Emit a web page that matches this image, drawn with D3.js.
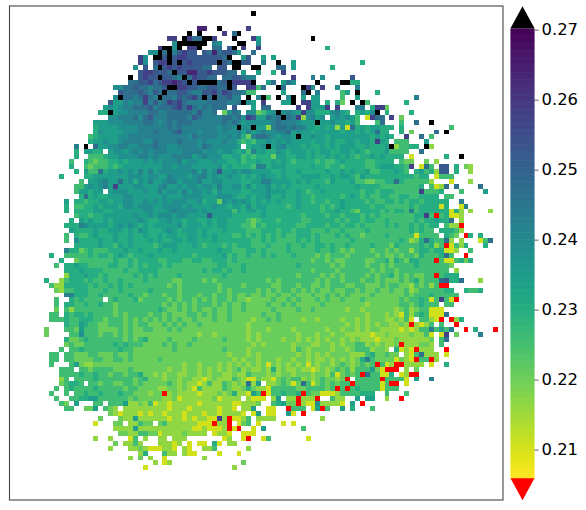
<!DOCTYPE html>
<html>
<head>
<meta charset="utf-8">
<script src="https://cdn.jsdelivr.net/npm/d3@7"></script>
<style>
  html, body { margin: 0; padding: 0; background: #fff; }
  svg { display: block; }
</style>
</head>
<body>
<svg id="chart" width="586" height="510"></svg>
<script>
//colour limits of the picture
var vmin = 0.2059;
var vmax = 0.2702;
var barTicks = [0.21, 0.22, 0.23, 0.24, 0.25, 0.26, 0.27];
var gridSize = 100;

//what one character in the rows stands for, k is over the top, r is under the bottom
var levelValues = {"0" : 0.2105, "1" : 0.2165, "2" : 0.2205, "3" : 0.2255, "4" : 0.2305, "5" : 0.2345, "6" : 0.2385,
                   "7" : 0.2425, "8" : 0.247, "9" : 0.2525, "a" : 0.258, "b" : 0.264, "k" : 0.28, "r" : 0.2};

//heatmap cells read by eye, top row first. each piece is column:cells, a dot means no data
var cellRows = [
"",
"49:k",
"",
"",
"38:bb 42:k 48:a",
"36:k 38:k 43:a 45:8k",
"32:aa 35:ka88kka 45:k 49:a 50:5 61:k",
"33:6kkkkkk 41:76 46:kk 50:6",
"30:akk6k.aak 41:88 44:9k 47:a 50:a 64:4",
"28:66k8k79a99 38:.98b8998 46:5 49:8",
"26:a6.kk9k9aa 36:99999 41:9988 44:k 47:5 48:9 51:5 53:5",
"26:a6.9aa 32:k9k9a99 39:999 42:k98 45:kk99 51:7 54:k 57:5 71:4",
"25:6.9.8k9a9a 35:999988.998 44:.kk 49:kk 54:88 57:5 65:4",
"26:9aa9998k99 36:bb99a99988 46:.5 50:5 53:4 55:a",
"24:k.9a99k9 32:9879 35:k8a99 40:88.88998 48:77 57:a 61:7 63:6 69:9",
"24:8899a8 30:9aaba9k9k8 40:kk89kaaaak 39:k 50:. 52:58 55:58 57:6 62:k 67:kk44",
"21:668898 27:8789 30:89kkaa9988 40:9988k9..k9 48:aa 50:3 51:8 54:k8 59:ka6 63:a 66:6 70:7",
"22:988898 28:79 30:8k88998779 40:9a8a988733 55:5 59:8k 62:7 67:35 70:k 74:4",
"21:6k8878a87 30:k887989a8k 40:8k88977.k. 50:7k3 54:k 56:6k 59:5 61:55 67:3 70:5 82:7",
"20:9557677a79 30:78a9a87777 40:888877 46:8k65 51:a 55:55 57:k 59:aa 61:55 64:4 66:4 67:2 69:k 71:k3 80:4",
"19:5 20:6567788897 30:8889a8a878 40:7888 44:.9 49:5 51:88 58:a 60:a55 63:5 64:a 66:a 70:77 73:4 74:aa 76:2",
"18:44 20:k566777788 30:7788888797 40:78.2687.66 50:2356k6765a 60:664446754. 70:4546k 76:4 81:4",
"20:6677786897 30:7788887987 40:77788786 48:a9 50:5587 54:8k87a1 60:6756.56565 70:3.0a88.a 79:2",
"17:555 20:6667777887 30:6787888777 40:7778787566 50:6667877765 60:55k5565545 70:3 74:38 79:3 82:8 85:k",
"17:455 20:5566667777 30:7787877777 40:776776k66k 50:5517887877 60:554545 66:1508. 70:4545544 75:444 79:4 89:3",
"17:465 20:5556667778 30:7778977767 40:7767667575 50:6766778565 60:5455555455 70:4545844..4 81:2 86:8 88:k",
"16:3455 20:5566777777 30:7777776877 40:7766767 47:427 50:8876566 57:5k5 60:5655455555 70:55545454 80:a 83:8 85:3",
"16:4556 20:5567777668 30:7777877767 40:6667664343 50:5565656555 60:5455454455 70:4554a54.33 80:3 84:5",
"13:7 15:k.8 18:55 20:6677667778 30:7766777768 40:7666665.45 50:56k5675554 60:5445454555 70:4454445k13 80:344 84:k1",
"13:4 15:5544 20:5665676767 30:7766677776 40:6656654537 50:5544654555 60:4545544554 70:5434445333 80:3 83:8",
"13:4 16:3334 20:5566667767 30:6667777567 40:6664455343 50:4442554455 60:4544545454 70:3445454444 81:0 88:4 91:k",
"12:3 15:43233 20:4454555656 30:5666756655 40:5655445344 50:5445454344 60:4434334544 70:44334444.3 80:22 84:2 86:1",
"12:4 15:32333 20:4345555555 30:5665666555 40:5564544443 50:7745554444 60:4544344344 70:4433455544 80:3a.083.99 90:4.21",
"13:4 15:53384 20:5565657575 30:6666666757 40:5695565665 50:5554454454 60:4444544545 70:4453344454 80:3.45341 87:99. 90:4 93:1",
"10:4 15:44555 20:5555666566 30:5576665677 40:5655655454 50:5655454445 60:5554454554 70:3544444444 80:44344.0333",
"14:3.5 17:567 20:5585646575 30:5677566675 40:5665555445 50:5775555454 60:5444354445 70:3322334484 80:333331 89:0 93:1",
"13:33 15:56567 20:5a55566555 30:6755656656 40:6575566464 50:5564545444 60:4454444444 70:5444433333 80:3334.3018 90:8 95:8",
"13:355455 20:5666555655 30:7566575665 40:6465555445 50:5565554454 60:3445444444 70:4344344433 80:333a3334 91:3 96:5",
"14:484 17:544 20:5556655555 30:5655566665 40:5566654454 50:5564454454 60:4344444345 70:4343344334 80:4334444.33",
"11:5 13:44 15:34 17:455 20:4556655656 30:5656665564 40:5526565654 50:5454544454 60:4344344544 70:4434334434 80:34434444 88:4 91:7",
"11:4 13:33 15:44 17:545 20:5546656665 30:5666656555 40:5655455464 50:5544443454 60:4443434544 70:4443443333 80:343444404 91:0 92:7",
"11:4 13:44 15:44 17:554 20:4555555665 30:5567666656 40:5555535455 50:4544444444 60:4443445443 70:2444434344 80:37344444 88:40 90:41 93:1 97:1",
"13:34434 18:45 20:5555565565 30:6665665555 40:9555544444 50:4544444443 60:4444344344 70:4343433333 80:3344a3r340 90:01",
"12:4 14:54544 19:5 20:4555556544 30:5565545544 40:5455444432 50:3444344443 60:3444443434 70:4344334333 80:3343445448 91:1",
"11:444 14:76555 19:5 20:4565654545 30:5555645554 40:5455444332 50:4344444433 60:4444344344 70:3433334343 80:3434344.31 90:1r",
"12:54444 17:544 20:5554546544 30:4565455545 40:4445444433 50:3444344344 60:4333433433 70:3343333333 80:343433.444 90:31",
"11:3 13:43345 18:44 20:4544544544 30:5455445545 40:4544433434 50:3434343344 60:4343334343 70:3233334333 80:3303333.43 90:2 92:r4 95:4",
"11:3 13:644445 19:4 20:4544544454 30:5445545544 40:4544444443 50:3434333343 60:4343333334 70:3333333334 80:3124843 87:381 91:1 95:038",
"13:4444454 20:4354544443 30:4555444543 40:4443434443 50:3343334334 60:3344343343 70:3334333243 80:3334341 87:3r0 90:31 92:4 96:4",
"11:74423 16:4333 20:4445445444 30:5445444444 40:4454433344 50:3433334333 60:3343343232 70:3332332323 80:3134434400 90:1 93:3",
"8:4 11:33333 16:43 18:44 20:3454344454 30:4444444344 40:4445343343 50:3434333433 60:3323233323 70:3333232232 80:3324333483 92:r",
"10:4 13:2333 17:333 20:3433434444 30:3344433443 40:3444343333 50:3333333333 60:3233232233 70:3322334243 80:244333r300 90:3424",
"9:3 11:44544 16:3333 20:4433434344 30:4343333333 40:3344333433 50:3333333343 60:3333323233 70:3323323233 80:3343333332",
"11:44454 16:4443 20:3334334444 30:3333333334 40:3443433433 50:3333333333 60:3233332333 70:3332323323 80:333333333. 90:1",
"11:14445 16:4434 20:3333343434 30:3333433333 40:3334333333 50:3333333323 60:3332323233 70:3323233423 80:232233r344 90:4",
"7:4 10:134443 16:4334 20:3343333433 30:3332233332 40:3233333333 50:3323233333 60:3323233233 70:3233232223 80:2342333894 90:48 95:1",
"8:3114 12:4444 16:3433 20:4343433333 30:3323233333 40:3323333233 50:3332233323 60:3223233322 70:3322232332 80:2132313rr",
"9:21334 14:44 16:3334 20:3343333343 30:3333233333 40:3323233333 50:2323233232 60:3232232233 70:2322322322 80:3123333344 92:4334",
"11:774 14:44 16:3343 20:3333433233 30:3233233323 40:3233232232 50:2322322322 60:2322323232 70:2223222222 80:3233343333 90:3",
"9:3 12:43 14:4 15:3333 20:3433342333 30:3323233232 40:3233232212 50:2223223232 60:2232322322 70:2322222223 80:233430 86:3a30 90:r",
"9:3 11:44 13:3343 17:343 20:3233333333 30:3232323233 40:3232322322 50:2232232322 60:2223222222 70:2212222223 80:3234333.33",
"9:2 11:31333 16:3333 20:3233333333 30:4322323232 40:2322322322 50:2223222232 60:2322222212 70:2122222212 80:31233000",
"8:33 11:434 14:43 16:4333 20:3232333323 30:3232223323 40:2322322222 50:2322322222 60:2222222222 70:2212221210 80:313430008",
"8:333 11:433 14:4443 18:32 20:3332323232 30:3232322322 40:2322322221 50:2232322221 60:2212222122 70:1212221121 80:30.3310r.r 90:14",
"11:433 14:543 17:322 20:3332323322 30:2323232232 40:2222222212 50:2222222222 60:2222222212 70:1212122112 80:1r1013.3 90:r",
"7:2 11:33 13:253 16:33 18:22 20:2232322332 30:2232322222 40:2222222212 50:2212222122 60:2222122122 70:1212211110 80:1013373537 92:r 94:4 98:r",
"7:2 12:33 14:6333 18:23 20:3232322222 30:2222222212 40:2122222212 50:1222222212 60:2212212211 70:1110112111 80:121130.0a 90:2 95:7",
"11:4223433 18:33 20:3332323422 30:2232222322 40:2223222212 50:1222212212 60:1212122121 70:2111011121 80:111112.38",
"11:232 14:2333 18:33 20:3434333222 30:2323223222 40:2222222221 50:2122222122 60:2112212122 70:3312121 77:12r 80:111221.3",
"10:3 12:33433 17:333 20:3343322222 30:2223222222 40:2223222212 50:2222222132 60:1222212212 70:3331221.40 80:10r111 88:r",
"8:33 11:3322 15:2332 19:2 20:2322322222 30:2222222222 40:2222122212 50:1222222212 60:1212122221 70:113422 76:322. 80:1038111.0",
"8:33 11:33222 16:2332 20:2332322222 30:3222222222 40:2222212122 50:1222122122 60:1211212121 70:2473222202 80:10r33r1",
"8:3 12:35 14:21122 19:2 20:2222222222 30:2222212212 40:2212121212 50:1202121212 60:0212212321 70:2323r301rr 80:1111.0 88:4",
"10:333.33 16:2333 20:3222322222 30:2212212212 40:1212123121 50:1214121121 60:1012123231 70:3335 74:20rrr. 80:1.2",
"10:3333 14:4334 18:33 20:2332334221 30:2122112212 40:1221121132 50:2212122122 60:2122130232 70:3r83300 77:4.0 80:1rr",
"10:13.33 15:334 18:33 20:3333323422 30:2122122110 40:1211132100 50:2110232331 60:2123221 67:2r. 70:33333r3333 80:0.5 85:7",
"10:2344 14:3.33 18:23 20:3223323222 30:2232121101 40:3113212181 50:5.11232023 59:8 60:3023232 67:33r 70:333330 76:3rr. 80:0",
"9:3 11:34 13:333 16:34 18:33 20:3332332222 30:1122121031 40:1113211242 50:1103333322 60:333323r3r3 70:4333303 77:33.",
"8:3 11:3 13:3343 17:343 20:3343322212 30:2r12111101 40:1121241105 50:3r03343343 59:r 60:3220001333 70:3444 76:3 80:3",
"9:3 12:33 14:44 16:5533 20:3333232222 30:2112011111 40:1201111.1 49:0 50:00.15.11r1 60:11r..3 66:11 70:5.55..1 79:r",
"10:32 13:5 17:33 20:3335112130 30:1101111101 40:1111100111 50:2..34522r1 60:0061111 67:0.5 71:r",
"11:33 15:22 17:5 19:3 20:21.1111111 30:1101110111 40:110110.111 49:5 50:..00..r333 60:.05r3 67:5 69:4 73:3",
"20:2101110101 30:1011101110 40:11011110 48:.0 50:5 52:00 56:5 57:0 59:r",
"18:2 22:21151111 30:1101101011 40:00a1r0013 50:1111 63:1",
"17:0 21:22.11322 30:2311111100 40:0r11r.023 50:0 55:0 57:0",
"21:1111511111 30:1111111001 40:0001r0r..0 51:5 59:3",
"22:22113322 30:0111121111 40:.0110..000 48:00",
"17:1 20:1 24:03.1 30:11 33:111 43:01 47:0r 51:03 60:0",
"21:2 23:11 25:31 30:11101 36:0 38:00 41:40 44:11",
"20:1 24:1121000 31:110 35:10 39:113 48:1",
"26:14 31:311 35:10 37:0 42:0 46:0",
"24:1 26:2 28:1 31:0 39:1",
"29:1 31:01 47:2",
"27:0 45:1"
];

//plot frame and colour bar box on the page
var plot = {left : 9.5, right : 503, top : 6, bottom : 500};
var bar = {left : 510.5, right : 534.5, top : 28.3, bottom : 478.3, tip : 22};

var svg = d3.select("#chart");

var colorScale = d3.scaleSequential(d3.interpolateViridis).domain([vmax, vmin]);

//turn the row pieces into one list of cells
var cells = [];
cellRows.forEach(function (row, rowIndex) {
  var byColumn = {};
  row.split(" ").forEach(function (piece) {
    if (piece === "") {
      return null;
    }
    var parts = piece.split(":");
    var start = Number(parts[0]);
    parts[1].split("").forEach(function (code, i) {
      byColumn[start + i] = code;
    });
  });
  Object.keys(byColumn).forEach(function (column) {
    var code = byColumn[column];
    if (code !== ".") {
      cells.push({row : rowIndex, column : Number(column), value : levelValues[code]});
    }
  });
});

var xScale = d3.scaleBand().domain(d3.range(gridSize)).range([plot.left, plot.right]);
var yScale = d3.scaleBand().domain(d3.range(gridSize)).range([plot.top, plot.bottom]);

function cellColor(value) {
  if (value > vmax) {
    return "black";
  }
  if (value < vmin) {
    return "red";
  }
  return colorScale(value);
}

svg.append("g")
  .selectAll("rect")
  .data(cells)
  .join("rect")
  .attr("x", function (d) { return xScale(d.column); })
  .attr("y", function (d) { return yScale(d.row); })
  .attr("width", xScale.bandwidth())
  .attr("height", yScale.bandwidth())
  .attr("shape-rendering", "crispEdges")
  .style("fill", function (d) { return cellColor(d.value); });

//frame around the heatmap
svg.append("rect")
  .attr("x", plot.left)
  .attr("y", plot.top)
  .attr("width", plot.right - plot.left)
  .attr("height", plot.bottom - plot.top)
  .style("fill", "none")
  .style("stroke", "#444")
  .style("stroke-width", 1.1);

//colour bar body, drawn as thin slices
var barScale = d3.scaleLinear().domain([vmin, vmax]).range([bar.bottom, bar.top]);
var barSteps = d3.range(0, 256);

svg.append("g")
  .selectAll("rect")
  .data(barSteps)
  .join("rect")
  .attr("x", bar.left)
  .attr("y", function (d) { return barScale(vmin + (vmax - vmin) * (d + 1) / 256); })
  .attr("width", bar.right - bar.left)
  .attr("height", (bar.bottom - bar.top) / 256 + 0.6)
  .style("fill", function (d) { return colorScale(vmin + (vmax - vmin) * (d + 0.5) / 256); });

//extend triangles at both ends of the bar
var barMiddle = (bar.left + bar.right) / 2;
svg.append("path")
  .attr("d", d3.line()([[bar.left, bar.top], [barMiddle, bar.top - bar.tip], [bar.right, bar.top]]) + "Z")
  .style("fill", "black");
svg.append("path")
  .attr("d", d3.line()([[bar.left, bar.bottom], [barMiddle, bar.bottom + bar.tip], [bar.right, bar.bottom]]) + "Z")
  .style("fill", "red");

//axis on the right of the bar
var barAxis = svg.append("g")
  .attr("transform", "translate(" + bar.right + ",0)")
  .call(d3.axisRight(barScale).tickValues(barTicks).tickSize(4).tickPadding(3).tickFormat(d3.format(".2f")));

barAxis.select(".domain").remove();
barAxis.selectAll("line").style("stroke", "#333").style("stroke-width", 0.8);
barAxis.selectAll("text")
  .style("font-family", "'DejaVu Sans', sans-serif")
  .style("font-size", "16.4px")
  .style("fill", "#000");
</script>
</body>
</html>
